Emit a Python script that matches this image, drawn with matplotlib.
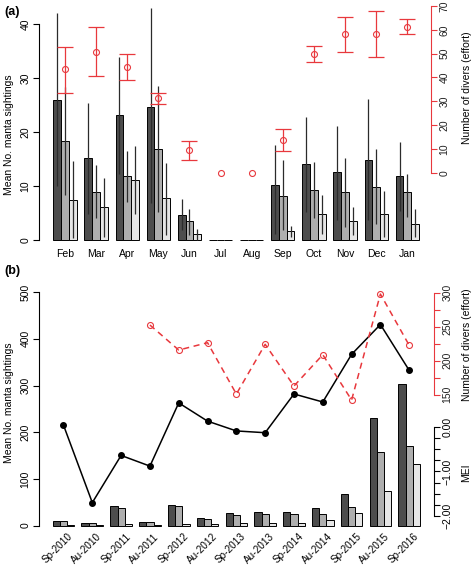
import numpy as np
import matplotlib
matplotlib.use("Agg")
import matplotlib.pyplot as plt

plt.rcParams['font.family'] = ['Liberation Sans', 'DejaVu Sans']

# ---------------- Panel (a) data ----------------
months = ['Feb', 'Mar', 'Apr', 'May', 'Jun', 'Jul', 'Aug', 'Sep', 'Oct', 'Nov', 'Dec', 'Jan']
dark_mean = [25.9, 15.1, 23.1, 24.7, 4.7, 0, 0, 10.1, 14.1, 12.6, 14.8, 11.8]
dark_lo = [10.0, 4.9, 12.3, 6.8, 1.9, 0, 0, 1.2, 5.2, 3.7, 3.7, 5.4]
dark_hi = [42.0, 25.3, 33.9, 42.9, 7.6, 0, 0, 17.6, 22.8, 21.2, 26.2, 18.1]
gray_mean = [18.3, 8.9, 11.9, 16.9, 3.5, 0, 0, 8.2, 9.3, 8.9, 9.9, 8.8]
gray_lo = [8.3, 4.0, 7.1, 5.2, 0.9, 0, 0, 1.9, 4.0, 2.5, 3.0, 4.3]
gray_hi = [28.3, 13.8, 16.5, 28.5, 5.7, 0, 0, 14.8, 14.5, 15.2, 16.9, 12.3]
white_mean = [7.5, 6.1, 11.1, 7.7, 1.1, 0, 0, 1.7, 4.8, 3.6, 4.9, 2.9]
white_lo = [0.3, 0.6, 4.8, 0.9, 0.0, 0, 0, 0.6, 1.2, 0.9, 0.5, 0.6]
white_hi = [14.6, 11.5, 17.4, 14.3, 2.1, 0, 0, 2.6, 8.3, 6.2, 9.1, 5.7]
effort_mean = [43.4, 50.8, 44.3, 31.2, 9.4, 0, 0, 13.6, 50.0, 58.1, 58.1, 61.3]
effort_lo = [33.6, 40.6, 38.8, 28.9, 5.3, 0, 0, 9.0, 46.4, 50.7, 48.5, 58.3]
effort_hi = [52.9, 61.1, 49.9, 33.3, 13.2, 0, 0, 18.2, 53.3, 65.5, 67.8, 64.4]

# ---------------- Panel (b) data ----------------
seasons = ['Sp-2010', 'Au-2010', 'Sp-2011', 'Au-2011', 'Sp-2012', 'Au-2012', 'Sp-2013',
           'Au-2013', 'Sp-2014', 'Au-2014', 'Sp-2015', 'Au-2015', 'Sp-2016']
b_dark = [9.5, 4.7, 41, 6.7, 43.7, 16.1, 26.8, 30, 29, 37, 67, 231, 304]
b_gray = [9.5, 4.7, 37, 6.7, 42.3, 14, 23.5, 25, 25, 25, 40, 158, 171]
b_white = [0.3, 0.3, 4.5, 0.3, 2.7, 2.7, 4.7, 6, 4.7, 12.7, 28, 74, 133]
mei = [0.04, -1.70, -0.64, -0.88, 0.54, 0.13, -0.09, -0.13, 0.74, 0.56, 1.63, 2.30, 1.27]
divers = [np.nan, np.nan, np.nan, 252.5, 215.7, 226.5, 151, 224.1, 162.8, 208.8, 142.2, 298, 222.6]

FILLS = ['#4D4D4D', '#AEAEAE', '#E6E6E6']
RED = '#E8383D'
ERRC = '#2b2b2b'
W, H = 474, 568


def px_axes(l, r, t, b):
    return fig.add_axes([l / W, 1 - b / H, (r - l) / W, (b - t) / H])


fig = plt.figure(figsize=(W / 100, H / 100), dpi=100)

TICKFS = 7.5

# ================= Panel (a) =================
ax = px_axes(39, 431, 5, 242)
n = len(months)
centers = np.array([4 * i + 2.5 for i in range(n)])
series = [(dark_mean, dark_lo, dark_hi), (gray_mean, gray_lo, gray_hi),
          (white_mean, white_lo, white_hi)]
for k, (m, lo, hi) in enumerate(series):
    xs = centers + (k - 1)
    ax.bar(xs, m, width=1.0, color=FILLS[k], edgecolor='black', linewidth=0.7, zorder=2)
    for x, l, h in zip(xs, lo, hi):
        if h > l:
            ax.plot([x, x], [l, h], color=ERRC, lw=0.9, zorder=3, clip_on=False,
                    solid_capstyle='butt')
ax.set_xlim(-0.83, 49.54)
ax.set_ylim(-0.37, 43.52)
for s in ['top', 'right', 'bottom']:
    ax.spines[s].set_visible(False)
ax.spines['left'].set_bounds(0, 40)
ax.spines['left'].set_linewidth(0.8)
ax.set_yticks([0, 10, 20, 30, 40])
ax.tick_params(axis='y', labelrotation=90, labelsize=TICKFS, length=4, width=0.8, pad=2)
for lab in ax.get_yticklabels():
    lab.set_va('center')
ax.set_xticks(centers)
ax.set_xticklabels(months, fontsize=TICKFS)
ax.tick_params(axis='x', length=0, pad=5)

ax2 = ax.twinx()
ax2.set_ylim(-29.1, 70.43)
for s in ['top', 'left', 'bottom']:
    ax2.spines[s].set_visible(False)
ax2.spines['right'].set_bounds(0, 70)
ax2.spines['right'].set_color(RED)
ax2.spines['right'].set_linewidth(0.8)
ax2.set_yticks(range(0, 71, 10))
ax2.tick_params(axis='y', colors=RED, labelcolor='#222222', labelrotation=90,
                labelsize=TICKFS, length=4, width=0.8, pad=2)
for lab in ax2.get_yticklabels():
    lab.set_va('center')
em = np.array(effort_mean)
elo = np.array(effort_lo)
ehi = np.array(effort_hi)
has = ehi > elo
ax2.errorbar(centers[has], em[has], yerr=[em[has] - elo[has], ehi[has] - em[has]],
             fmt='none', ecolor=RED, elinewidth=0.9, capsize=5.5, capthick=0.9, zorder=4)
ax2.plot(centers, em, 'o', mfc='none', mec=RED, ms=4.3, mew=0.8, zorder=5)

fig.text(4 / W, 1 - 12 / H, '(a)', fontsize=9, fontweight='bold', va='center', ha='left')
fig.text(9 / W, 1 - 134.5 / H, 'Mean No. manta sightings', rotation=90, fontsize=TICKFS,
         ha='center', va='center')
fig.text(466.5 / W, 1 - 87.5 / H, 'Number of divers (effort)', rotation=90, fontsize=TICKFS,
         ha='center', va='center')

# ================= Panel (b) =================
bx = px_axes(39, 434, 280, 528)
nb = len(seasons)
bcent = np.array([4 * i + 2.5 for i in range(nb)])
for k, vals in enumerate([b_dark, b_gray, b_white]):
    bx.bar(bcent + (k - 1), vals, width=1.0, color=FILLS[k], edgecolor='black',
           linewidth=0.7, zorder=2)
bx.set_xlim(-0.90, 53.94)
bx.set_ylim(-5.1, 526.1)
for s in ['top', 'right', 'bottom']:
    bx.spines[s].set_visible(False)
bx.spines['left'].set_bounds(0, 500)
bx.spines['left'].set_linewidth(0.8)
bx.set_yticks(range(0, 501, 100))
bx.tick_params(axis='y', labelrotation=90, labelsize=TICKFS, length=4, width=0.8, pad=2)
for lab in bx.get_yticklabels():
    lab.set_va('center')
bx.set_xticks(bcent + 0.6)
bx.set_xticklabels(seasons, fontsize=7.2, rotation=45, ha='right', va='top',
                   rotation_mode='anchor')
bx.tick_params(axis='x', length=0, pad=2.5)

# MEI axis
mx = bx.twinx()
mx.set_ylim(-2.27, 3.30)
for s in ['top', 'left', 'bottom']:
    mx.spines[s].set_visible(False)
mx.spines['right'].set_bounds(-2, 0)
mx.spines['right'].set_linewidth(0.8)
mticks = np.arange(-2, 0.01, 0.25)
mx.set_yticks(mticks)
mx.set_yticklabels(['\u22122.00' if abs(t + 2) < 1e-9 else '\u22121.00' if abs(t + 1) < 1e-9
                    else '0.00' if abs(t) < 1e-9 else '' for t in mticks])
mx.tick_params(axis='y', labelrotation=90, labelsize=TICKFS, length=4, width=0.8, pad=2)
for lab in mx.get_yticklabels():
    lab.set_va('center')
mx.plot(bcent, mei, '-o', color='black', lw=1.1, ms=4, zorder=5, clip_on=False)

# Divers axis
dx = bx.twinx()
dx.set_ylim(-46, 318.7)
for s in ['top', 'left', 'bottom']:
    dx.spines[s].set_visible(False)
dx.spines['right'].set_bounds(150, 300)
dx.spines['right'].set_color(RED)
dx.spines['right'].set_linewidth(0.8)
dticks = np.arange(150, 301, 25)
dx.set_yticks(dticks)
dx.set_yticklabels([str(t) if t % 50 == 0 else '' for t in dticks])
dx.tick_params(axis='y', colors=RED, labelcolor='#222222', labelrotation=90,
               labelsize=TICKFS, length=4, width=0.8, pad=2)
for lab in dx.get_yticklabels():
    lab.set_va('center')
dx.plot(bcent, divers, '--o', color=RED, lw=1.1, dashes=(4, 3), mfc='none', mec=RED,
        ms=4.3, mew=0.8, zorder=4)

fig.text(4 / W, 1 - 270.5 / H, '(b)', fontsize=9, fontweight='bold', va='center', ha='left')
fig.text(9 / W, 1 - 402.8 / H, 'Mean No. manta sightings', rotation=90, fontsize=TICKFS,
         ha='center', va='center')
fig.text(466.5 / W, 1 - 345 / H, 'Number of divers (effort)', rotation=90, fontsize=TICKFS,
         ha='center', va='center')
fig.text(466.5 / W, 1 - 473 / H, 'MEI', rotation=90, fontsize=TICKFS,
         ha='center', va='center')

fig.savefig('out.png', dpi=100)
